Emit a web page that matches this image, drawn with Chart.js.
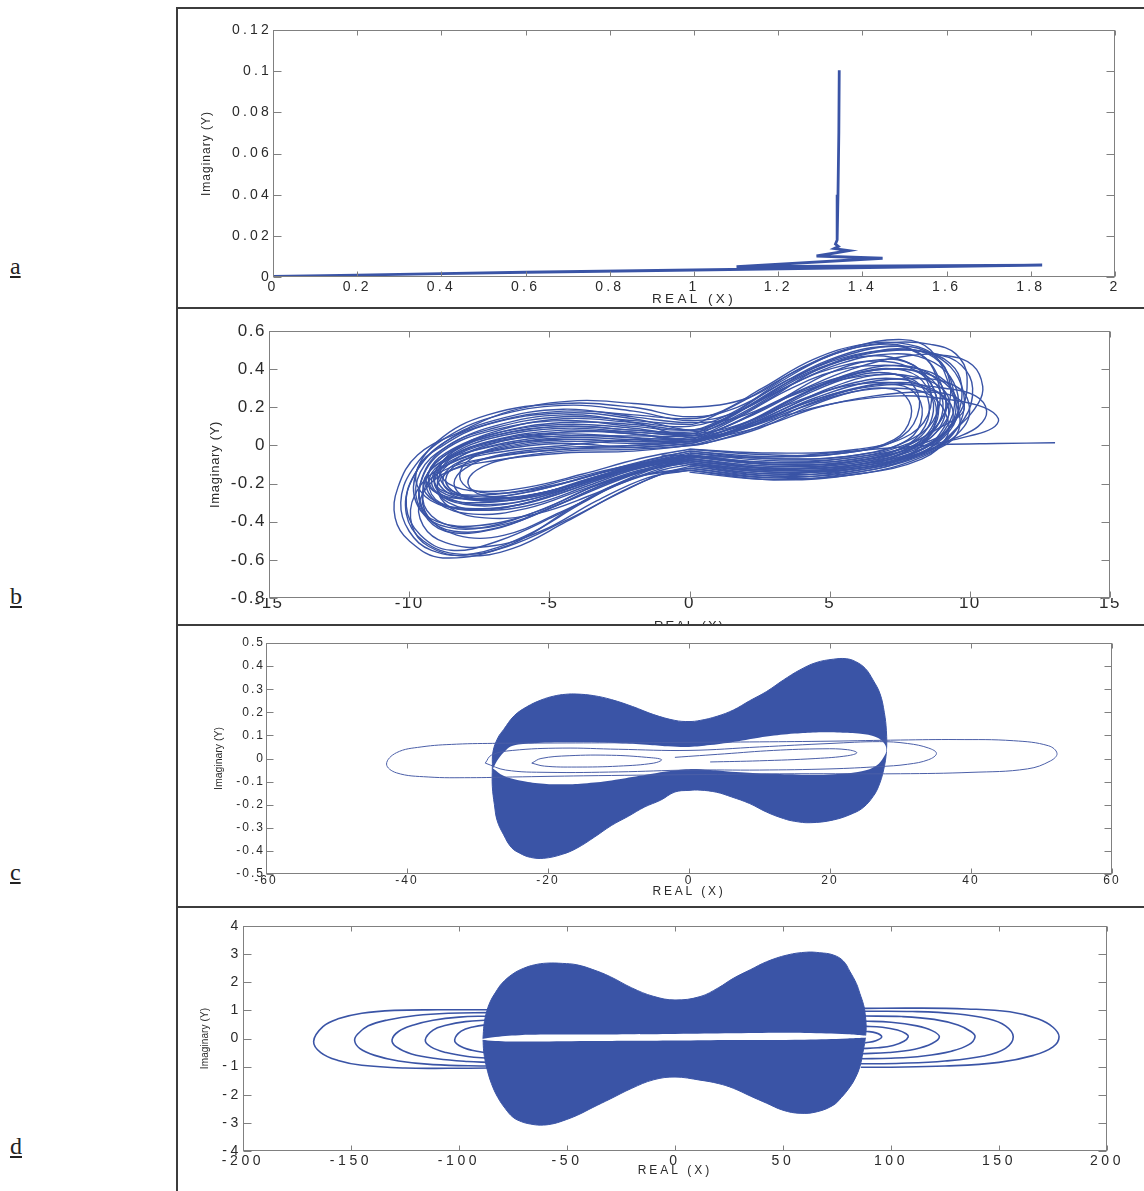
<!DOCTYPE html>
<html>
<head>
<meta charset="utf-8">
<script src="https://cdn.jsdelivr.net/npm/chart.js@4.4.1/dist/chart.umd.min.js"></script>
<style>
  body { margin: 0; background: #fff; width: 1144px; height: 1191px; position: relative; overflow: hidden; }
  .rule { position: absolute; background: #3c3c3c; }
  .tag { position: absolute; left: 10px; font: 24px 'Liberation Serif', 'Times New Roman', serif; text-decoration: underline; color: #222; line-height: 1; }
  canvas { position: absolute; left: 178px; }
</style>
</head>
<body>
<div class="rule" style="left:176px;top:7px;width:2px;height:1184px"></div>
<div class="rule" style="left:176px;top:7px;width:968px;height:2px"></div>
<div class="rule" style="left:176px;top:307px;width:968px;height:2px"></div>
<div class="rule" style="left:176px;top:624px;width:968px;height:2px"></div>
<div class="rule" style="left:176px;top:906px;width:968px;height:2px"></div>
<div class="tag" style="top:254px">a</div>
<div class="tag" style="top:584px">b</div>
<div class="tag" style="top:860px">c</div>
<div class="tag" style="top:1134px">d</div>
<canvas id="ca" width="966" height="298" style="top:9px"></canvas>
<canvas id="cb" width="966" height="315" style="top:309px"></canvas>
<canvas id="cc" width="966" height="280" style="top:626px"></canvas>
<canvas id="cd" width="966" height="283" style="top:908px"></canvas>
<script>
const xTitle = 'REAL (X)';
const yTitle = 'Imaginary (Y)';
const blue = '#3a54a6';

// ---- panel a ----
const aXTicks = [0, 0.2, 0.4, 0.6, 0.8, 1, 1.2, 1.4, 1.6, 1.8, 2];
const aYTicks = [0, 0.02, 0.04, 0.06, 0.08, 0.1, 0.12];
const aPath = [[1.345, 0.1005], [1.344, 0.07], [1.342, 0.04], [1.340, 0.018], [1.336, 0.016], [1.343, 0.0148],
  [1.333, 0.0138], [1.368, 0.0128], [1.291, 0.0102], [1.448, 0.0091], [1.101, 0.0050], [1.827, 0.0058],
  [1.0, 0.0034], [0.6, 0.0023], [0.4, 0.0016], [0.2, 0.0009], [0, 0.0003]];

// ---- panel b ----
const bXTicks = [-15, -10, -5, 0, 5, 10, 15];
const bYTicks = [-0.8, -0.6, -0.4, -0.2, 0, 0.2, 0.4, 0.6];
const bCycles = [
  [[0,-0.14],[3,-0.18],[6,-0.14],[8.5,-0.04],[9.6,0.08],[9.3,0.3],[8.6,0.5],[7.6,0.555],[5.7,0.51],[3.9,0.4],[2.1,0.25],[0,0.2],
   [-2,0.22],[-4,0.235],[-6.4,0.18],[-8.2,0.07],[-9.7,-0.05],[-10.4,-0.22],[-10.5,-0.38],[-10,-0.5],[-8.8,-0.59],[-6.4,-0.52],[-4,-0.31],[-2,-0.17],[0,-0.13]],
  [[0,-0.1],[3,-0.15],[6,-0.1],[8.2,0],[9.1,0.15],[8.9,0.35],[8.2,0.48],[7,0.52],[5,0.45],[3,0.3],[1,0.12],[0,0.08],
   [-2,0.1],[-4.5,0.13],[-7,0.08],[-8.8,-0.03],[-9.6,-0.2],[-9.5,-0.35],[-8.7,-0.45],[-7,-0.44],[-5,-0.33],[-3,-0.2],[-1,-0.1],[0,-0.08]],
  [[0,-0.08],[2.5,-0.12],[5.5,-0.12],[7.8,-0.03],[8.8,0.12],[8.7,0.3],[8,0.42],[6.8,0.45],[5,0.38],[3,0.22],[1,0.08],[0,0.05],
   [-2,0.05],[-4.5,0.05],[-7,0.02],[-8.6,-0.07],[-9.2,-0.18],[-8.8,-0.27],[-7.5,-0.3],[-5.5,-0.26],[-3.5,-0.17],[-1.5,-0.1],[0,-0.06]],
  [[0,-0.05],[3,-0.09],[6,-0.07],[8,0.02],[8.7,0.18],[8.3,0.34],[7.4,0.4],[6,0.38],[4.2,0.28],[2.4,0.14],[0.5,0.04],[0,0.03],
   [-2,0.02],[-5,0.03],[-7.5,-0.02],[-8.9,-0.1],[-9.3,-0.2],[-8.9,-0.3],[-7.6,-0.34],[-5.8,-0.3],[-3.8,-0.2],[-2,-0.11],[0,-0.05]],
  [[0,-0.12],[3,-0.16],[6,-0.12],[8.5,-0.03],[9.6,0.1],[10.3,0.22],[10.46,0.31],[10.1,0.42],[9.2,0.47],[7.8,0.47],[5.8,0.4],[3.8,0.28],[1.8,0.15],[0,0.12],
   [-2,0.15],[-4.5,0.19],[-7,0.13],[-8.7,0.02],[-9.8,-0.15],[-10.1,-0.32],[-9.6,-0.47],[-8.5,-0.55],[-6.8,-0.5],[-4.8,-0.37],[-2.8,-0.22],[-1,-0.13],[0,-0.1]],
  [[0,-0.1],[3,-0.13],[6,-0.08],[8.5,0],[10,0.05],[10.8,0.09],[11.02,0.14],[10.5,0.2],[9.3,0.24],[7.5,0.26],[5.5,0.23],[3.5,0.16],[1.5,0.07],[0,0.04],
   [-2,0.03],[-4.5,0],[-7,-0.04],[-8.4,-0.1],[-8.8,-0.19],[-8.3,-0.26],[-7,-0.28],[-5,-0.24],[-3,-0.15],[-1,-0.08],[0,-0.05]],
  [[0,-0.06],[3,-0.1],[5.5,-0.09],[7.5,-0.02],[8.4,0.1],[8.5,0.25],[7.9,0.35],[6.7,0.37],[5,0.3],[3.2,0.18],[1.3,0.06],[0,0.02],
   [-2,0],[-4.5,-0.01],[-6.8,-0.05],[-8,-0.12],[-8.4,-0.2],[-8,-0.27],[-6.8,-0.29],[-5,-0.25],[-3,-0.16],[-1,-0.09],[0,-0.06]],
  [[0,-0.03],[3,-0.07],[6,-0.05],[7.8,0.03],[8.3,0.16],[8,0.28],[7.2,0.32],[6,0.3],[4.3,0.22],[2.5,0.1],[0.8,0.02],[0,0],
   [-2,-0.02],[-4.5,-0.03],[-6.5,-0.07],[-7.6,-0.13],[-7.9,-0.2],[-7.4,-0.26],[-6.2,-0.27],[-4.5,-0.22],[-2.8,-0.14],[-1,-0.07],[0,-0.04]],
  [[0,-0.09],[3,-0.14],[6,-0.11],[8.3,-0.02],[9.3,0.13],[9.4,0.3],[8.9,0.44],[8,0.5],[6.5,0.49],[4.6,0.4],[2.8,0.24],[1,0.1],[0,0.07],
   [-2,0.08],[-4.5,0.1],[-7,0.05],[-8.8,-0.06],[-9.5,-0.22],[-9.3,-0.38],[-8.4,-0.45],[-6.8,-0.43],[-4.8,-0.32],[-2.8,-0.19],[-1,-0.11],[0,-0.08]],
  [[0,-0.07],[3,-0.11],[6,-0.09],[8,0],[9,0.14],[9.1,0.28],[8.5,0.38],[7.4,0.42],[5.8,0.38],[4,0.27],[2.2,0.13],[0.5,0.04],[0,0.03],
   [-2,0.06],[-4.5,0.08],[-7.2,0.02],[-8.8,-0.08],[-9.4,-0.17],[-9,-0.25],[-7.8,-0.28],[-6,-0.25],[-4,-0.18],[-2,-0.1],[0,-0.07]],
  [[0,-0.11],[3,-0.15],[6,-0.13],[8.4,-0.04],[9.8,0.1],[9.9,0.25],[9.2,0.33],[8,0.35],[6.3,0.33],[4.5,0.25],[2.5,0.13],[0.5,0.05],[0,0.04],
   [-2,0.12],[-4.5,0.16],[-7,0.1],[-8.7,-0.01],[-9.6,-0.14],[-9.7,-0.3],[-9,-0.4],[-7.5,-0.42],[-5.5,-0.35],[-3.5,-0.22],[-1.5,-0.13],[0,-0.09]],
  [[0,-0.04],[3,-0.08],[6,-0.06],[8,0.02],[9,0.1],[9.6,0.15],[9.8,0.2],[9.4,0.26],[8.3,0.28],[6.6,0.26],[4.6,0.2],[2.6,0.1],[0.6,0.03],[0,0.01],
   [-2,-0.01],[-4.5,0.01],[-7,-0.03],[-8.6,-0.1],[-9.1,-0.19],[-8.7,-0.27],[-7.4,-0.31],[-5.6,-0.28],[-3.6,-0.19],[-1.6,-0.1],[0,-0.05]],
  [[0,-0.13],[3,-0.17],[6,-0.13],[8.2,-0.04],[9.3,0.08],[9.6,0.22],[9.3,0.36],[8.5,0.45],[7.2,0.48],[5.4,0.43],[3.5,0.31],[1.6,0.17],[0,0.13],
   [-2,0.18],[-4.5,0.21],[-7,0.15],[-8.8,0.03],[-9.9,-0.13],[-10.3,-0.3],[-10,-0.45],[-9.2,-0.55],[-7.8,-0.57],[-5.8,-0.47],[-3.8,-0.3],[-2,-0.17],[0,-0.12]],
  [[0,-0.02],[3,-0.05],[5.5,-0.04],[7.3,0.03],[7.9,0.15],[7.7,0.26],[7,0.3],[5.8,0.28],[4.2,0.2],[2.5,0.09],[0.8,0.02],[0,0],
   [-2,0.04],[-4.5,0.06],[-6.8,0.02],[-8.3,-0.05],[-8.9,-0.14],[-8.6,-0.23],[-7.4,-0.27],[-5.6,-0.24],[-3.6,-0.16],[-1.6,-0.08],[0,-0.03]],
  [[0,-0.08],[3,-0.12],[6,-0.1],[8.4,-0.01],[9.5,0.15],[9.7,0.32],[9.3,0.43],[8.4,0.49],[7.2,0.5],[5.5,0.46],[3.6,0.35],[1.7,0.2],[0,0.15],
   [-2,0.2],[-4.5,0.22],[-7.2,0.16],[-9,0.02],[-9.8,-0.17],[-9.6,-0.34],[-8.6,-0.43],[-7,-0.42],[-5,-0.32],[-3,-0.19],[-1,-0.11],[0,-0.08]],
  [[0,-0.05],[3,-0.09],[6,-0.06],[8.3,0.01],[9.2,0.08],[9.6,0.18],[9.3,0.3],[8.4,0.38],[7,0.4],[5.4,0.35],[3.6,0.24],[1.8,0.11],[0,0.06],
   [-2,0.07],[-4.5,0.09],[-7,0.04],[-8.5,-0.05],[-9.1,-0.15],[-8.9,-0.24],[-7.8,-0.28],[-6,-0.27],[-4,-0.2],[-2,-0.11],[0,-0.06]],
  [[0,-0.06],[3,-0.1],[6,-0.08],[8.1,0.01],[8.9,0.2],[8.7,0.4],[8,0.5],[6.8,0.53],[5,0.47],[3.2,0.33],[1.5,0.17],[0,0.1],
   [-2,0.12],[-4.5,0.14],[-7,0.07],[-8.5,-0.04],[-9,-0.16],[-8.6,-0.25],[-7.4,-0.29],[-5.6,-0.27],[-3.6,-0.18],[-1.6,-0.1],[0,-0.06]],
  [[0,-0.1],[3,-0.14],[6,-0.12],[8.2,-0.03],[9.1,0.1],[9.2,0.22],[8.6,0.3],[7.5,0.33],[5.9,0.3],[4.1,0.22],[2.3,0.11],[0.6,0.04],[0,0.02],
   [-2,0],[-4.5,-0.02],[-7,-0.06],[-8.9,-0.14],[-9.5,-0.25],[-9.2,-0.37],[-8.2,-0.43],[-6.5,-0.41],[-4.5,-0.3],[-2.5,-0.18],[-1,-0.11],[0,-0.09]],
  [[0,-0.12],[3,-0.17],[6,-0.15],[8.3,-0.06],[9.4,0.06],[9.8,0.2],[9.6,0.35],[8.9,0.46],[7.8,0.53],[6.2,0.53],[4.4,0.45],[2.6,0.3],[1,0.17],[0,0.14],
   [-2,0.16],[-4.5,0.18],[-7,0.12],[-8.9,0],[-9.9,-0.18],[-10.1,-0.36],[-9.5,-0.5],[-8.2,-0.57],[-6.5,-0.53],[-4.5,-0.4],[-2.5,-0.25],[-1,-0.15],[0,-0.12]],
  [[0,-0.07],[3,-0.12],[6,-0.1],[8,-0.01],[8.9,0.12],[9,0.26],[8.5,0.36],[7.5,0.4],[6,0.38],[4.2,0.3],[2.4,0.17],[0.8,0.07],[0,0.05],
   [-2,0.09],[-4.5,0.11],[-7,0.06],[-8.7,-0.04],[-9.3,-0.14],[-9.1,-0.24],[-8,-0.31],[-6.2,-0.3],[-4.2,-0.22],[-2.2,-0.13],[0,-0.07]],
  [[0,-0.03],[3,-0.06],[6,-0.03],[7.6,0.05],[8.2,0.2],[7.9,0.33],[7.1,0.38],[5.8,0.36],[4.2,0.27],[2.5,0.14],[0.8,0.04],[0,0.02],
   [-2,0.01],[-4.5,0.02],[-6.8,-0.02],[-8.2,-0.09],[-8.7,-0.18],[-8.3,-0.25],[-7.1,-0.28],[-5.3,-0.25],[-3.4,-0.17],[-1.5,-0.08],[0,-0.03]],
  [[0,-0.09],[3,-0.13],[6,-0.11],[8.6,-0.02],[9.8,0.14],[10.1,0.3],[9.7,0.42],[8.8,0.48],[7.5,0.5],[5.8,0.46],[4,0.36],[2.2,0.21],[0.6,0.1],[0,0.08],
   [-2,0.11],[-4.5,0.12],[-7,0.06],[-8.8,-0.06],[-9.4,-0.18],[-9,-0.3],[-7.7,-0.36],[-5.8,-0.33],[-3.8,-0.23],[-1.8,-0.13],[0,-0.08]],
  [[0,-0.13],[3,-0.18],[6,-0.15],[8.3,-0.07],[9.2,0.05],[9.1,0.18],[8.5,0.27],[7.4,0.3],[5.8,0.28],[4,0.2],[2.2,0.1],[0.6,0.02],[0,0],
   [-2,-0.03],[-4.5,-0.04],[-7,-0.08],[-8.8,-0.15],[-9.6,-0.28],[-9.5,-0.42],[-8.7,-0.51],[-7.2,-0.53],[-5.3,-0.45],[-3.3,-0.29],[-1.5,-0.17],[0,-0.13]],
  [[0,-0.06],[3,-0.09],[6,-0.07],[8.2,0.03],[9.2,0.2],[9.2,0.38],[8.6,0.48],[7.6,0.52],[6,0.49],[4.2,0.39],[2.4,0.23],[0.8,0.1],[0,0.08],
   [-2,0.14],[-4.5,0.17],[-7.2,0.11],[-8.9,-0.01],[-9.7,-0.12],[-9.6,-0.24],[-8.7,-0.32],[-7,-0.33],[-5,-0.27],[-3,-0.17],[-1,-0.09],[0,-0.06]],
  [[0,-0.1],[3,-0.14],[6,-0.12],[7.8,-0.05],[8.6,0.06],[8.8,0.2],[8.4,0.3],[7.4,0.35],[5.9,0.33],[4.1,0.24],[2.3,0.12],[0.7,0.04],[0,0.02],
   [-2,0.03],[-4.5,0.04],[-6.6,0],[-7.8,-0.07],[-8.2,-0.16],[-7.8,-0.23],[-6.6,-0.25],[-4.9,-0.21],[-3,-0.14],[-1.3,-0.08],[0,-0.05]],
  [[0,-0.04],[3,-0.07],[6,-0.05],[8,0.04],[8.8,0.16],[8.7,0.3],[8.1,0.39],[7,0.44],[5.5,0.42],[3.8,0.33],[2,0.18],[0.5,0.07],[0,0.05],
   [-2,0.07],[-4.5,0.07],[-7,0.01],[-8.6,-0.1],[-9,-0.22],[-8.5,-0.33],[-7.3,-0.38],[-5.5,-0.36],[-3.5,-0.26],[-1.6,-0.14],[0,-0.07]],
  [[0,-0.08],[3,-0.12],[6,-0.1],[8.3,-0.02],[9.3,0.1],[9.5,0.24],[9.1,0.34],[8.2,0.4],[6.8,0.42],[5.2,0.39],[3.5,0.29],[1.8,0.15],[0.4,0.05],[0,0.03],
   [-2,0.04],[-4.5,0.05],[-7,0],[-8.5,-0.08],[-9.1,-0.16],[-8.9,-0.23],[-7.9,-0.26],[-6.1,-0.24],[-4.1,-0.17],[-2,-0.1],[0,-0.06]],
  [[0,-0.11],[3,-0.16],[6,-0.14],[8,-0.06],[9,0.04],[9.4,0.14],[9.2,0.24],[8.4,0.3],[7.1,0.33],[5.5,0.31],[3.8,0.23],[2,0.12],[0.5,0.04],[0,0.02],
   [-2,0.02],[-4.5,0.03],[-7,-0.02],[-8.9,-0.12],[-9.8,-0.26],[-9.9,-0.42],[-9.3,-0.53],[-8,-0.58],[-6.3,-0.54],[-4.4,-0.4],[-2.4,-0.24],[-1,-0.15],[0,-0.11]],
  [[0,-0.02],[3,-0.04],[6,-0.02],[7.9,0.06],[8.6,0.2],[8.4,0.36],[7.7,0.44],[6.6,0.47],[5.1,0.43],[3.5,0.33],[1.9,0.19],[0.5,0.08],[0,0.06],
   [-2,0.08],[-4.5,0.1],[-7,0.05],[-8.4,-0.03],[-8.9,-0.12],[-8.6,-0.2],[-7.5,-0.24],[-5.8,-0.22],[-3.8,-0.15],[-1.8,-0.07],[0,-0.02]],
  [[0,-0.07],[3,-0.11],[6,-0.09],[8.4,0],[9.6,0.16],[9.9,0.36],[9.5,0.48],[8.6,0.53],[7.3,0.54],[5.6,0.5],[3.8,0.39],[2,0.24],[0.5,0.13],[0,0.11],
   [-2,0.13],[-4.5,0.15],[-7,0.09],[-8.8,-0.02],[-9.6,-0.2],[-9.4,-0.36],[-8.3,-0.47],[-6.6,-0.47],[-4.6,-0.35],[-2.6,-0.21],[-1,-0.12],[0,-0.09]],
  [[0,-0.05],[3,-0.1],[6,-0.08],[8.1,0],[9,0.1],[9.3,0.2],[9,0.3],[8,0.36],[6.6,0.37],[5,0.33],[3.3,0.24],[1.6,0.12],[0.4,0.04],[0,0.02],
   [-2,0.06],[-4.5,0.07],[-7.1,0.02],[-8.9,-0.09],[-9.5,-0.2],[-9.1,-0.29],[-7.9,-0.33],[-6,-0.31],[-4,-0.22],[-2,-0.12],[0,-0.07]],
  [[0,-0.09],[3,-0.13],[6,-0.12],[8.2,-0.04],[9.5,0.04],[10.3,0.1],[10.6,0.18],[10.2,0.26],[9.1,0.3],[7.5,0.32],[5.7,0.29],[3.9,0.21],[2.1,0.1],[0.5,0.03],[0,0.01],
   [-2,-0.01],[-4.5,-0.02],[-6.9,-0.06],[-8.5,-0.13],[-9,-0.22],[-8.6,-0.3],[-7.4,-0.34],[-5.6,-0.31],[-3.6,-0.21],[-1.8,-0.12],[0,-0.08]]
];
const bTail = [[13.04, 0.014], [11, 0.01], [9, 0.004], [7, -0.015], [5, -0.04], [3, -0.06], [1, -0.06], [-1, -0.05]];

// ---- panel c ----
const cXTicks = [-60, -40, -20, 0, 20, 40, 60];
const cYTicks = [-0.5, -0.4, -0.3, -0.2, -0.1, 0, 0.1, 0.2, 0.3, 0.4, 0.5];
const cOuter = [[-27.9,-0.04],[-27.8,0.03],[-27.1,0.09],[-26.3,0.125],[-24.8,0.185],[-23,0.224],[-21,0.253],[-19.2,0.27],[-17.5,0.278],
  [-15.9,0.279],[-13.5,0.272],[-11,0.255],[-8,0.225],[-5,0.19],[-2,0.165],[0,0.16],[1.6,0.165],[4,0.183],[6.3,0.21],[8.6,0.25],
  [11,0.29],[13.4,0.34],[15.7,0.383],[18,0.415],[20.5,0.43],[22.3,0.432],[23.6,0.42],[25,0.39],[26.1,0.34],[27.1,0.28],[27.7,0.2],
  [28,0.12],[28,0.03],[27.6,-0.05],[26.9,-0.12],[26.1,-0.165],[24.8,-0.21],[23.3,-0.237],[20.5,-0.266],[17.2,-0.278],[15,-0.272],
  [13.4,-0.26],[11,-0.232],[8.6,-0.195],[6,-0.166],[3.9,-0.146],[1.6,-0.137],[0,-0.138],[-2,-0.145],[-4,-0.18],[-6.3,-0.21],
  [-8.6,-0.25],[-11,-0.29],[-13.4,-0.34],[-15.9,-0.388],[-18,-0.415],[-20.6,-0.432],[-22.5,-0.428],[-24,-0.41],[-25.2,-0.385],
  [-26.3,-0.33],[-27.2,-0.27],[-27.6,-0.2],[-27.9,-0.12],[-27.9,-0.04]];
const cLens = [[-27.8,-0.043],[-27,0],[-26,0.035],[-25,0.055],[-22,0.066],[-18,0.07],[-14,0.07],[-10,0.066],[-6,0.06],[-3,0.053],
  [0,0.05],[3,0.058],[7,0.075],[11,0.095],[15,0.108],[18,0.113],[21,0.113],[24,0.108],[26.3,0.095],[27.5,0.072],[28,0.04],
  [27.6,0.005],[26.6,-0.03],[24.5,-0.055],[20.5,-0.068],[16,-0.07],[11,-0.065],[6,-0.057],[3,-0.05],[0,-0.046],[-3,-0.055],
  [-7,-0.075],[-11,-0.095],[-15,-0.108],[-18,-0.112],[-21,-0.108],[-24,-0.095],[-26.3,-0.075],[-27.8,-0.043]];
const cLoops = [
  [[-27,0.066],[-33,0.062],[-38,0.05],[-41.5,0.025],[-42.9,-0.024],[-41.5,-0.062],[-37,-0.08],[-31,-0.083],[-25,-0.08],[-15,-0.075],
   [0,-0.07],[15,-0.066],[30,-0.066],[40,-0.06],[48,-0.045],[51.3,-0.01],[52.2,0.022],[51,0.055],[46,0.077],[38,0.082],[30,0.08],
   [20,0.075],[10,0.072],[0,0.07],[-10,0.068],[-20,0.067],[-27,0.066]],
  [[-28.9,-0.02],[-28,0.015],[-25,0.035],[-18,0.045],[-10,0.04],[0,0.035],[10,0.05],[20,0.065],[27,0.073],[31,0.065],[34,0.045],
   [35.1,0.022],[34,-0.005],[31,-0.025],[27,-0.035],[20,-0.045],[10,-0.05],[0,-0.05],[-10,-0.058],[-20,-0.06],[-26,-0.05],[-28.9,-0.02]],
  [[-22.3,-0.02],[-21,0],[-17,0.012],[-11,0.014],[-6,0.005],[-3.9,-0.005],[-5,-0.02],[-10,-0.033],[-16,-0.037],[-20.5,-0.033],[-22.3,-0.02]],
  [[-2,0.005],[5,0.02],[12,0.035],[19,0.042],[22.5,0.038],[23.8,0.025],[22.5,0.012],[18,0],[10,-0.01],[3,-0.015]]
];

// ---- panel d ----
const dXTicks = [-200, -150, -100, -50, 0, 50, 100, 150, 200];
const dYTicks = [-4, -3, -2, -1, 0, 1, 2, 3, 4];
const dOuter = [[-88.9,0],[-88.4,0.5],[-87.4,0.9],[-85.6,1.3],[-83,1.65],[-80,1.97],[-75,2.3],[-70,2.5],[-65,2.62],[-59.3,2.68],
  [-52,2.67],[-45.4,2.62],[-38,2.45],[-30,2.2],[-20,1.8],[-10,1.5],[0,1.37],[11.6,1.49],[20,1.8],[27,2.14],[35,2.45],[42.4,2.73],
  [52,2.97],[61,3.07],[67,3.05],[73.3,2.97],[78,2.75],[81,2.38],[84,1.95],[85.6,1.6],[87.3,1.2],[88,0.9],[88.5,0.4],[88,-0.05],
  [87,-0.5],[85.6,-1.0],[83.5,-1.4],[81,-1.72],[77,-2.1],[73.3,-2.37],[66,-2.6],[57.9,-2.66],[50,-2.55],[42.4,-2.3],[35,-2.05],
  [27,-1.77],[20,-1.6],[11.6,-1.48],[0,-1.37],[-10,-1.47],[-20,-1.77],[-30,-2.15],[-38,-2.45],[-45,-2.72],[-52,-2.93],[-57,-3.04],
  [-62.3,-3.08],[-67,-3.04],[-71,-2.96],[-75,-2.8],[-78.5,-2.5],[-82,-2.1],[-85,-1.6],[-87.3,-1.0],[-88.5,-0.5],[-88.9,0]];
const dLens = [[-90.9,-0.03],[-85,0.04],[-72,0.12],[-40,0.14],[0,0.16],[27,0.185],[60,0.2],[80,0.15],[91,0.06],
  [80,0],[60,-0.04],[27,-0.05],[0,-0.07],[-40,-0.09],[-72,-0.11],[-85,-0.08],[-90.9,-0.03]];
const dLoops = [
  [[-86,1.02],[-110,1.02],[-130,1.0],[-145,0.9],[-156,0.7],[-163,0.42],[-167.3,-0.1],[-164,-0.5],[-156,-0.78],[-145,-0.95],[-125,-1.05],[-105,-1.06],[-86,-1.05]],
  [[-86,0.92],[-105,0.9],[-120,0.82],[-133,0.66],[-142,0.45],[-147,0.15],[-148.3,-0.08],[-146,-0.35],[-139,-0.6],[-128,-0.8],[-112,-0.93],[-86,-0.98]],
  [[-86,0.8],[-100,0.76],[-112,0.65],[-121,0.48],[-128,0.25],[-131,-0.05],[-129,-0.3],[-122,-0.55],[-110,-0.72],[-96,-0.82],[-86,-0.85]],
  [[-86,0.66],[-97,0.6],[-106,0.47],[-112,0.3],[-115.6,-0.05],[-113,-0.3],[-106,-0.5],[-96,-0.64],[-86,-0.7]],
  [[-86,0.5],[-93,0.42],[-99,0.26],[-102,-0.05],[-100,-0.25],[-94,-0.42],[-86,-0.52]],
  [[87,1.07],[110,1.08],[135,1.05],[155,0.95],[168,0.7],[175,0.4],[177.8,0.06],[175,-0.3],[166,-0.6],[150,-0.85],[125,-0.98],[100,-1.02],[86,-1.02]],
  [[87,0.97],[110,0.96],[130,0.88],[145,0.7],[153,0.45],[156.6,0.06],[153,-0.35],[143,-0.62],[125,-0.8],[105,-0.88],[86,-0.9]],
  [[87,0.8],[105,0.78],[120,0.68],[131,0.48],[137,0.25],[138.9,0.06],[136,-0.22],[128,-0.45],[115,-0.62],[100,-0.7],[86,-0.72]],
  [[87,0.62],[100,0.58],[112,0.45],[119,0.28],[122.4,0.06],[119,-0.18],[111,-0.38],[99,-0.5],[86,-0.54]],
  [[87,0.44],[96,0.4],[103,0.3],[107,0.17],[108,0.06],[106,-0.1],[101,-0.25],[94,-0.33],[86,-0.36]],
  [[88,0.26],[93,0.2],[95.7,0.06],[93,-0.08],[88,-0.16]]
];

const font = "'Liberation Sans', Arial, sans-serif";

// box, inward ticks on all sides, axis titles
const framePlugin = {
  id: 'frame',
  beforeDraw(chart, args, o) {
    chart.ctx.letterSpacing = o.spacing + 'px';
  },
  afterDraw(chart, args, o) {
    const { ctx, chartArea: a, scales: { x, y } } = chart;
    const L = Math.round(a.left) + 0.5, R = Math.round(a.right) - 0.5;
    const T = Math.round(a.top) + 0.5, B = Math.round(a.bottom) - 0.5;
    ctx.save();
    ctx.strokeStyle = '#808080';
    ctx.lineWidth = 1;
    ctx.strokeRect(L, T, R - L, B - T);
    ctx.beginPath();
    x.ticks.forEach(t => {
      const px = Math.round(x.getPixelForValue(t.value)) + 0.5;
      ctx.moveTo(px, B); ctx.lineTo(px, B - o.tx);
      ctx.moveTo(px, T); ctx.lineTo(px, T + o.tx);
    });
    y.ticks.forEach(t => {
      const py = Math.round(y.getPixelForValue(t.value)) + 0.5;
      ctx.moveTo(L, py); ctx.lineTo(L + o.ty, py);
      ctx.moveTo(R, py); ctx.lineTo(R - o.ty, py);
    });
    ctx.stroke();

    ctx.fillStyle = '#2a2a2a';
    ctx.textAlign = 'center';
    ctx.textBaseline = 'middle';
    ctx.font = o.xt.size + 'px ' + font;
    ctx.letterSpacing = o.xt.spacing + 'px';
    ctx.fillText(xTitle, (a.left + a.right) / 2, a.bottom + o.xt.dy);
    ctx.translate(a.left + o.yt.dx, (a.top + a.bottom) / 2);
    ctx.rotate(-Math.PI / 2);
    ctx.font = o.yt.size + 'px ' + font;
    ctx.letterSpacing = o.yt.spacing + 'px';
    ctx.fillText(yTitle, 0, 0);
    ctx.restore();
  }
};

function line(pts, opts) {
  return Object.assign({
    data: pts.map(p => ({ x: p[0], y: p[1] })),
    showLine: true,
    pointRadius: 0,
    borderColor: blue,
    borderWidth: 1.3,
    backgroundColor: 'rgba(0,0,0,0)',
    fill: false,
    tension: 0.4,
    order: 1
  }, opts);
}

function axis(ticks, fixSize, t, isX) {
  return {
    type: 'linear',
    min: ticks[0],
    max: ticks[ticks.length - 1],
    afterBuildTicks: s => { s.ticks = ticks.map(v => ({ value: v })); },
    afterFit: s => { if (isX) s.height = fixSize; else s.width = fixSize; },
    grid: { display: false, drawTicks: false },
    border: { display: false },
    ticks: {
      autoSkip: false, maxRotation: 0, minRotation: 0,
      padding: isX ? t.padX : t.padY,
      color: '#2a2a2a',
      font: { family: font, size: t.size, lineHeight: 1 },
      callback: v => String(v)
    }
  };
}

function panel(id, datasets, xTicks, yTicks, p) {
  return new Chart(document.getElementById(id), {
    type: 'scatter',
    data: { datasets },
    options: {
      responsive: false,
      animation: false,
      events: [],
      layout: { padding: { left: 0, top: p.top, right: p.right, bottom: 0 } },
      plugins: {
        legend: { display: false },
        tooltip: { enabled: false },
        frame: { spacing: p.t.spacing, tx: p.tx, ty: p.ty, xt: p.xt, yt: p.yt }
      },
      scales: {
        x: axis(xTicks, p.xH, p.t, true),
        y: axis(yTicks, p.yW, p.t, false)
      }
    },
    plugins: [framePlugin]
  });
}

panel('ca', [line(aPath, { borderWidth: 2.8, tension: 0 })], aXTicks, aYTicks, {
  top: 21, right: 29, yW: 95, xH: 30, tx: 5, ty: 8,
  t: { size: 14, spacing: 3.2, padX: 3, padY: 1 },
  xt: { size: 13.5, spacing: 3.4, dy: 22 },
  yt: { size: 12, spacing: 1, dx: -66 }
});

panel('cb', [
  ...bCycles.map(c => line(c, { borderWidth: 1.4 })),
  line(bTail, { borderWidth: 1.4 })
], bXTicks, bYTicks, {
  top: 22, right: 34, yW: 91, xH: 26, tx: 6, ty: 8,
  t: { size: 17, spacing: 1.5, padX: -3, padY: 3 },
  xt: { size: 13, spacing: 2, dy: 28 },
  yt: { size: 13, spacing: 0.7, dx: -54 }
});

panel('cc', [
  line(cOuter, { borderWidth: 1, backgroundColor: blue, fill: 'shape', order: 3 }),
  line(cLens, { borderColor: 'rgba(0,0,0,0)', borderWidth: 1, backgroundColor: '#fff', fill: 'shape', order: 2 }),
  ...cLoops.map(l => line(l, { borderColor: '#4b5fa8', borderWidth: 1, order: 1 }))
], cXTicks, cYTicks, {
  top: 17, right: 32, yW: 88, xH: 32, tx: 5, ty: 7,
  t: { size: 12, spacing: 2, padX: 1, padY: 1 },
  xt: { size: 12, spacing: 2.8, dy: 18 },
  yt: { size: 10.5, spacing: 0, dx: -46.5 }
});

panel('cd', [
  line(dOuter, { borderWidth: 1, backgroundColor: blue, fill: 'shape', order: 3 }),
  line(dLens, { borderColor: 'rgba(0,0,0,0)', borderWidth: 1, backgroundColor: '#fff', fill: 'shape', order: 2 }),
  ...dLoops.map(l => line(l, { borderWidth: 1.6, order: 1 }))
], dXTicks, dYTicks, {
  top: 18, right: 37, yW: 65, xH: 40, tx: 5, ty: 8,
  t: { size: 14, spacing: 3.6, padX: 3, padY: 1 },
  xt: { size: 12, spacing: 3, dy: 20 },
  yt: { size: 10, spacing: 0.1, dx: -38 }
});
</script>
</body>
</html>
